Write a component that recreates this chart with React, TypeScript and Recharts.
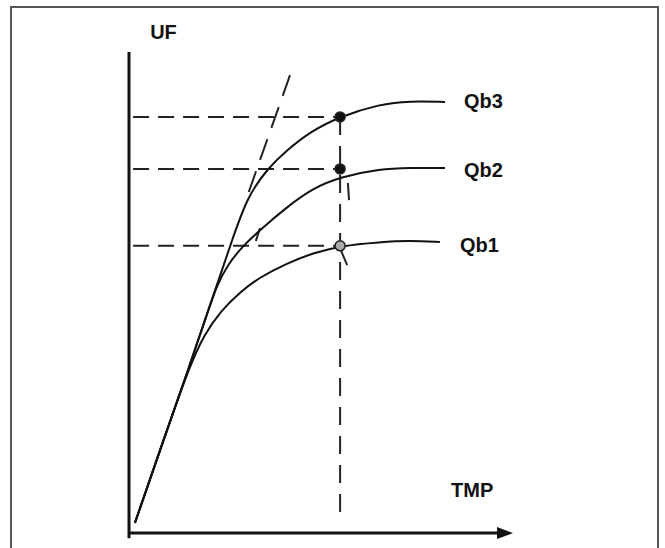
import React from 'react';
import { ComposedChart, Line, XAxis, YAxis, ReferenceLine, ReferenceDot } from 'recharts';

// Shared initial straight portion (TMP, UF)
const SHARED_TMP = [1.6, 8.4, 16.2];
const SHARED_UF = [2.1, 17.3, 34.5];

// Qb1 curve
const QB1_TMP = [20.2, 24.8, 29.9, 35.3, 42.6, 49.6, 56.9, 67.7, 75.7, 83.8];
const QB1_UF = [41.2, 46.2, 50.1, 53.2, 56.1, 58.2, 59.7, 60.5, 60.8, 60.5];

// Shared by Qb2 and Qb3 before they part
const UPPER_TMP = [20.5, 23.7];
const UPPER_UF = [44.3, 51.6];

// Qb2 curve
const QB2_TMP = [26.7, 30.5, 35.3, 42.6, 49.6, 56.9, 67.7, 75.7, 85.2];
const QB2_UF = [55.9, 59.5, 63.0, 67.8, 71.7, 74.0, 75.7, 75.9, 75.9];

// Qb3 curve
const QB3_TMP = [27.2, 31.8, 37.5, 42.6, 48.8, 56.6, 67.7, 75.7, 85.2];
const QB3_UF = [59.5, 69.9, 75.9, 79.6, 83.4, 86.5, 89.2, 89.8, 89.6];

// Operating points
const POINT_TMP = 56.9;
const POINT_UF = [86.5, 75.7, 59.7];
const POINT_FILL = ['#111', '#111', '#aaa'];

// Tangent (extension of the initial slope)
const TANGENT_TMP = [31.5, 43.4];
const TANGENT_UF = [69.2, 95.2];

// Small tick marks
const MARK_TMP = [[35.3, 34.2], [59.0, 59.3], [57.1, 58.8]];
const MARK_UF = [[63.4, 60.7], [72.8, 69.2], [58.8, 55.7]];

// Labels
const CURVE_LABELS = ['Qb3', 'Qb2', 'Qb1'];
const CURVE_LABEL_TMP = [90.3, 90.3, 89.2];
const CURVE_LABEL_UF = [89.8, 75.5, 59.9];
const X_LABEL = 'TMP';
const Y_LABEL = 'UF';

const build = (xs: number[], ys: number[]) => xs.map((x, i) => ({ tmp: x, uf: ys[i] }));

const shared = build(SHARED_TMP, SHARED_UF);
const upper = build(UPPER_TMP, UPPER_UF);
const qb1 = [...shared, ...build(QB1_TMP, QB1_UF)];
const qb2 = [...shared, ...upper, ...build(QB2_TMP, QB2_UF)];
const qb3 = [...shared, ...upper, ...build(QB3_TMP, QB3_UF)];

const FONT = '"Liberation Sans", Arial, sans-serif';
const INK = '#111';

const Arrow = (props: any) => {
  const { cx, cy } = props;
  if (cx == null || cy == null) return null;
  return <polygon points={`${cx - 3},${cy - 6} ${cx + 13},${cy} ${cx - 3},${cy + 6}`} fill={INK} />;
};

const labelStyle = (value: string) => ({
  value,
  position: 'right' as const,
  offset: 0,
  fontSize: 20,
  fontWeight: 'bold',
  fill: INK,
  fontFamily: FONT,
});

export default function App() {
  return (
    <div style={{ position: 'absolute', left: 0, top: 0, width: 665, height: 548, overflow: 'hidden', background: '#fff' }}>
      <div
        style={{
          position: 'absolute',
          left: 10,
          top: 6,
          width: 645,
          height: 600,
          border: '2px solid #555',
        }}
      />
      <div style={{ position: 'absolute', left: 0, top: 0 }}>
        <ComposedChart width={665} height={548} margin={{ top: 52, right: 165, bottom: 15, left: 129 }}>
          <XAxis type="number" dataKey="tmp" domain={[0, 100]} hide allowDataOverflow />
          <YAxis type="number" dataKey="uf" domain={[0, 100]} hide allowDataOverflow />

          {/* axes */}
          <ReferenceLine segment={[{ x: 0, y: -1.1 }, { x: 0, y: 100 }]} stroke={INK} strokeWidth={3} ifOverflow="visible" />
          <ReferenceLine segment={[{ x: 0, y: 0 }, { x: 99.5, y: 0 }]} stroke={INK} strokeWidth={3} ifOverflow="visible" />
          <ReferenceDot x={100} y={0} r={6} shape={<Arrow />} ifOverflow="visible" />

          {/* horizontal dashed guides */}
          {POINT_UF.map((uf, i) => (
            <ReferenceLine
              key={`h${i}`}
              segment={[{ x: 1.1, y: uf }, { x: POINT_TMP, y: uf }]}
              stroke="#222"
              strokeWidth={2}
              strokeDasharray="16 9"
              ifOverflow="visible"
            />
          ))}
          {/* vertical dashed guide */}
          <ReferenceLine
            segment={[{ x: POINT_TMP, y: POINT_UF[0] }, { x: POINT_TMP, y: 2.1 }]}
            stroke="#222"
            strokeWidth={2}
            strokeDasharray="18 11"
            ifOverflow="visible"
          />
          {/* tangent dashed line */}
          <ReferenceLine
            segment={[{ x: TANGENT_TMP[1], y: TANGENT_UF[1] }, { x: TANGENT_TMP[0], y: TANGENT_UF[0] }]}
            stroke="#222"
            strokeWidth={2}
            strokeDasharray="22 12"
            ifOverflow="visible"
          />
          {MARK_TMP.map((xs, i) => (
            <ReferenceLine
              key={`m${i}`}
              segment={[{ x: xs[0], y: MARK_UF[i][0] }, { x: xs[1], y: MARK_UF[i][1] }]}
              stroke="#222"
              strokeWidth={2}
              ifOverflow="visible"
            />
          ))}

          <Line data={qb1} dataKey="uf" type="basis" stroke={INK} strokeWidth={2} dot={false} isAnimationActive={false} />
          <Line data={qb2} dataKey="uf" type="basis" stroke={INK} strokeWidth={2} dot={false} isAnimationActive={false} />
          <Line data={qb3} dataKey="uf" type="basis" stroke={INK} strokeWidth={2} dot={false} isAnimationActive={false} />

          {POINT_UF.map((uf, i) => (
            <ReferenceDot key={`p${i}`} x={POINT_TMP} y={uf} r={5} fill={POINT_FILL[i]} stroke="#222" strokeWidth={1.5} ifOverflow="visible" />
          ))}

          {CURVE_LABELS.map((t, i) => (
            <ReferenceDot
              key={`l${i}`}
              x={CURVE_LABEL_TMP[i]}
              y={CURVE_LABEL_UF[i]}
              r={0}
              fill="none"
              stroke="none"
              ifOverflow="visible"
              label={labelStyle(t)}
            />
          ))}
          <ReferenceDot x={86.8} y={8.9} r={0} fill="none" stroke="none" ifOverflow="visible" label={labelStyle(X_LABEL)} />
          <ReferenceDot x={5.7} y={104.2} r={0} fill="none" stroke="none" ifOverflow="visible" label={labelStyle(Y_LABEL)} />
        </ComposedChart>
      </div>
    </div>
  );
}
